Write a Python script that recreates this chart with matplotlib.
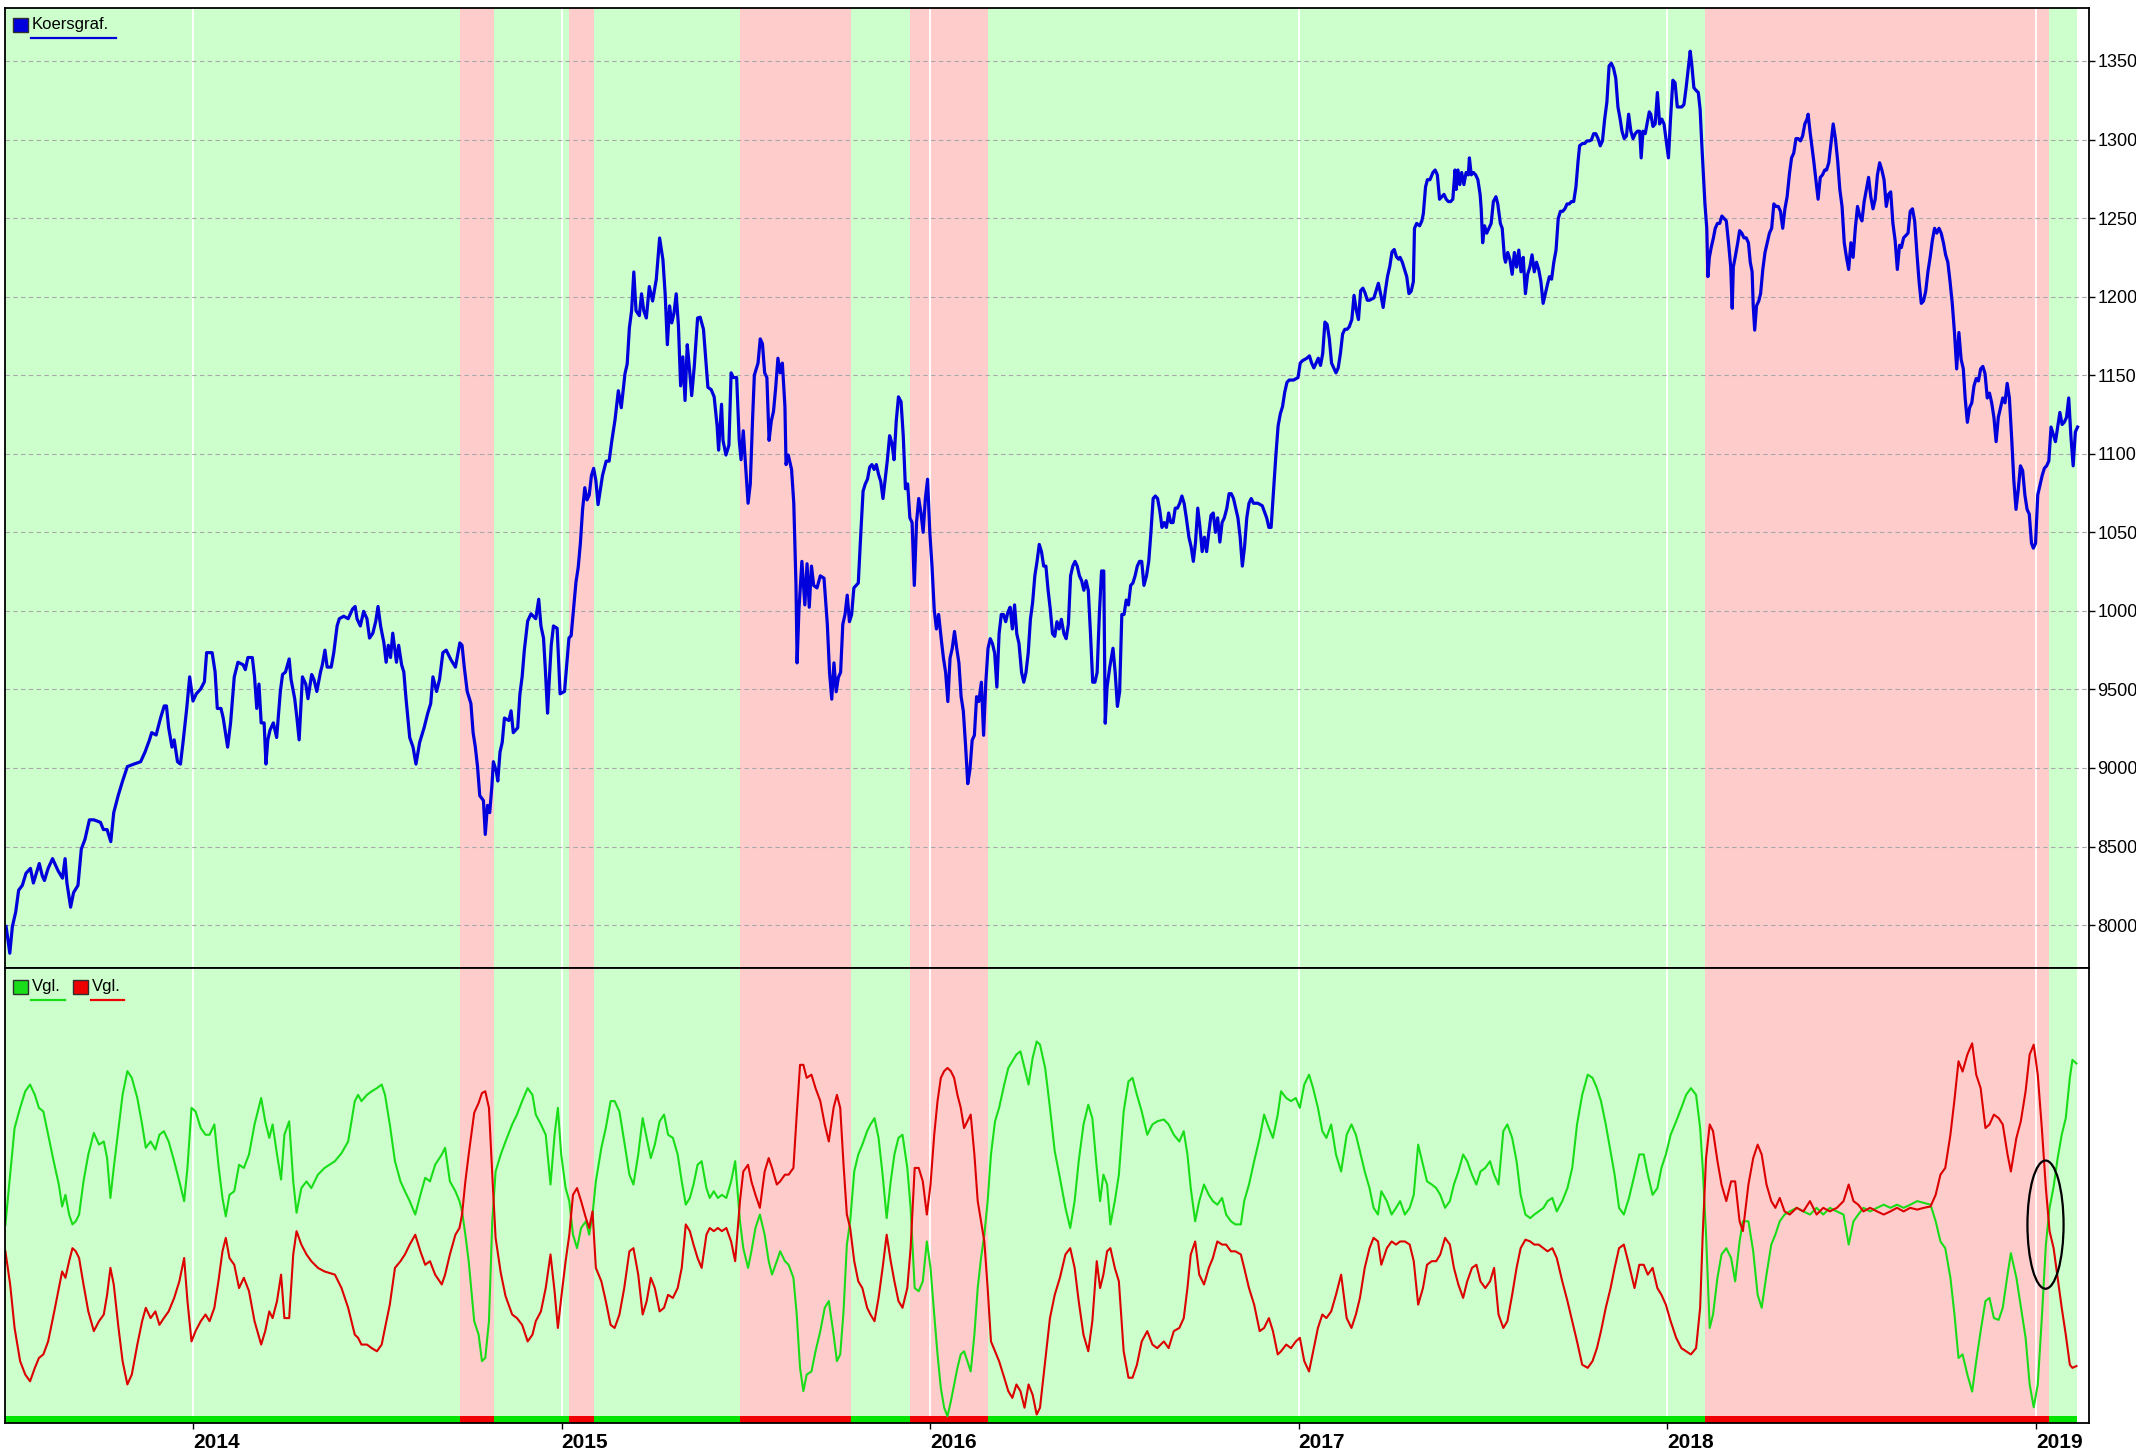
import matplotlib
matplotlib.use("Agg")
import matplotlib.pyplot as plt
from matplotlib.patches import Ellipse, Rectangle
from matplotlib.lines import Line2D

plt.rcParams["font.family"] = ["Liberation Sans", "DejaVu Sans"]

# ---------------- data (x = decimal year) ----------------
price_t = [
    2013.493, 2013.503, 2013.510, 2013.519, 2013.527, 2013.537, 2013.547, 2013.559, 2013.567, 2013.583,
    2013.591, 2013.597, 2013.607, 2013.619, 2013.634, 2013.646, 2013.653, 2013.658, 2013.668, 2013.676,
    2013.688, 2013.697, 2013.707, 2013.719, 2013.731, 2013.749, 2013.757, 2013.767, 2013.777, 2013.785,
    2013.797, 2013.809, 2013.822, 2013.840, 2013.858, 2013.870, 2013.882, 2013.888, 2013.900, 2013.912,
    2013.922, 2013.928, 2013.934, 2013.943, 2013.949, 2013.958, 2013.966, 2013.973, 2013.983, 2013.991,
    2014.000, 2014.009, 2014.021, 2014.031, 2014.037, 2014.052, 2014.060, 2014.066, 2014.076, 2014.082,
    2014.094, 2014.102, 2014.112, 2014.122, 2014.136, 2014.142, 2014.149, 2014.161, 2014.167, 2014.173,
    2014.179, 2014.185, 2014.193, 2014.198, 2014.203, 2014.209, 2014.218, 2014.227, 2014.237, 2014.243,
    2014.251, 2014.261, 2014.266, 2014.276, 2014.282, 2014.288, 2014.297, 2014.306, 2014.312, 2014.322,
    2014.328, 2014.336, 2014.346, 2014.351, 2014.358, 2014.364, 2014.375, 2014.382, 2014.391, 2014.397,
    2014.409, 2014.421, 2014.433, 2014.440, 2014.445, 2014.454, 2014.463, 2014.472, 2014.479, 2014.488,
    2014.496, 2014.502, 2014.509, 2014.518, 2014.524, 2014.530, 2014.536, 2014.542, 2014.552, 2014.558,
    2014.566, 2014.572, 2014.578, 2014.588, 2014.597, 2014.605, 2014.615, 2014.627, 2014.637, 2014.645,
    2014.651, 2014.661, 2014.669, 2014.678, 2014.687, 2014.700, 2014.712, 2014.724, 2014.730, 2014.736,
    2014.744, 2014.754, 2014.760, 2014.766, 2014.772, 2014.778, 2014.788, 2014.793, 2014.799, 2014.805,
    2014.811, 2014.815, 2014.823, 2014.827, 2014.833, 2014.839, 2014.845, 2014.857, 2014.863, 2014.869,
    2014.881, 2014.887, 2014.893, 2014.899, 2014.908, 2014.917, 2014.930, 2014.938, 2014.944, 2014.951,
    2014.956, 2014.962, 2014.966, 2014.972, 2014.978, 2014.988, 2014.996, 2015.008, 2015.014, 2015.020,
    2015.026, 2015.033, 2015.039, 2015.045, 2015.051, 2015.057, 2015.063, 2015.069, 2015.075, 2015.081,
    2015.087, 2015.093, 2015.099, 2015.105, 2015.111, 2015.121, 2015.129, 2015.136, 2015.145, 2015.154,
    2015.162, 2015.172, 2015.178, 2015.184, 2015.190, 2015.196, 2015.202, 2015.211, 2015.217, 2015.223,
    2015.230, 2015.238, 2015.247, 2015.257, 2015.266, 2015.275, 2015.281, 2015.287, 2015.293, 2015.299,
    2015.305, 2015.311, 2015.317, 2015.323, 2015.329, 2015.335, 2015.341, 2015.347, 2015.353, 2015.360,
    2015.369,
    2015.376, 2015.385, 2015.390, 2015.397, 2015.406, 2015.414, 2015.422, 2015.426, 2015.434, 2015.438,
    2015.446, 2015.454, 2015.460, 2015.466, 2015.475, 2015.482, 2015.487, 2015.493, 2015.499, 2015.506,
    2015.512, 2015.518, 2015.523, 2015.533, 2015.539, 2015.545, 2015.551, 2015.557, 2015.563, 2015.569,
    2015.575, 2015.581, 2015.587, 2015.593, 2015.599, 2015.606, 2015.609, 2015.615, 2015.624, 2015.630,
    2015.636, 2015.639, 2015.644, 2015.652, 2015.660, 2015.666, 2015.672, 2015.678, 2015.684, 2015.693,
    2015.702, 2015.712, 2015.721, 2015.727, 2015.733, 2015.739, 2015.745, 2015.751, 2015.757, 2015.763,
    2015.769, 2015.775, 2015.781, 2015.787, 2015.793, 2015.805,
    2015.812, 2015.818, 2015.824, 2015.830, 2015.836, 2015.842, 2015.848, 2015.854, 2015.860, 2015.866,
    2015.872, 2015.878, 2015.884, 2015.890, 2015.896, 2015.902, 2015.908, 2015.914, 2015.921, 2015.927,
    2015.933, 2015.939, 2015.945, 2015.951, 2015.957, 2015.963, 2015.969, 2015.975, 2015.981, 2015.987,
    2015.993, 2015.999, 2016.005, 2016.011, 2016.017, 2016.023, 2016.030, 2016.036, 2016.042, 2016.048,
    2016.054, 2016.060, 2016.066, 2016.072, 2016.078, 2016.084, 2016.090, 2016.096, 2016.102, 2016.108,
    2016.114, 2016.120, 2016.126, 2016.132, 2016.139, 2016.145, 2016.151, 2016.157, 2016.163, 2016.169,
    2016.175, 2016.181, 2016.187, 2016.193, 2016.199, 2016.205, 2016.211, 2016.217, 2016.223, 2016.229,
    2016.235, 2016.241, 2016.248, 2016.254, 2016.260, 2016.266, 2016.272, 2016.278, 2016.284, 2016.290,
    2016.296, 2016.302, 2016.308, 2016.314, 2016.320, 2016.326, 2016.332, 2016.338, 2016.344, 2016.350,
    2016.356, 2016.363, 2016.369, 2016.375, 2016.381, 2016.387, 2016.393, 2016.399, 2016.405, 2016.411,
    2016.417, 2016.423, 2016.429, 2016.435, 2016.441, 2016.447, 2016.453, 2016.459, 2016.465,
    2016.471, 2016.475, 2016.480, 2016.487, 2016.496, 2016.502,
    2016.508, 2016.514, 2016.520, 2016.526, 2016.532, 2016.538, 2016.544, 2016.550, 2016.556, 2016.562,
    2016.568, 2016.574, 2016.580, 2016.587, 2016.593, 2016.599, 2016.605, 2016.611, 2016.617, 2016.623,
    2016.629, 2016.635, 2016.641, 2016.647, 2016.653, 2016.659, 2016.665, 2016.671, 2016.677, 2016.683,
    2016.689, 2016.695, 2016.702, 2016.708, 2016.714, 2016.720, 2016.726, 2016.732, 2016.738, 2016.744,
    2016.750, 2016.756, 2016.762, 2016.768, 2016.774, 2016.780, 2016.786, 2016.792, 2016.798, 2016.805,
    2016.811, 2016.817, 2016.823, 2016.829, 2016.835, 2016.841, 2016.847, 2016.853, 2016.859, 2016.865,
    2016.871, 2016.877, 2016.889, 2016.901, 2016.913, 2016.919, 2016.925, 2016.932, 2016.938, 2016.944,
    2016.950, 2016.956, 2016.962, 2016.968, 2016.974, 2016.986, 2016.998, 2017.004, 2017.010, 2017.022,
    2017.029, 2017.035, 2017.041, 2017.047, 2017.053, 2017.059, 2017.065, 2017.071, 2017.077, 2017.083,
    2017.089, 2017.095, 2017.101, 2017.107, 2017.113, 2017.119, 2017.125, 2017.131, 2017.137, 2017.144,
    2017.150, 2017.156, 2017.162, 2017.168, 2017.174, 2017.180, 2017.186, 2017.192, 2017.204, 2017.210,
    2017.216, 2017.223, 2017.229, 2017.235, 2017.241, 2017.247, 2017.253, 2017.259, 2017.265, 2017.271,
    2017.275, 2017.281, 2017.287, 2017.293, 2017.299, 2017.305, 2017.311, 2017.314, 2017.320, 2017.328,
    2017.334, 2017.338, 2017.344, 2017.349, 2017.356, 2017.364, 2017.370, 2017.376, 2017.382, 2017.388,
    2017.394, 2017.400, 2017.406, 2017.412, 2017.418, 2017.424, 2017.427, 2017.432, 2017.437, 2017.442,
    2017.448, 2017.454, 2017.460, 2017.463, 2017.468, 2017.474, 2017.480, 2017.486, 2017.492, 2017.495,
    2017.499, 2017.504, 2017.510, 2017.516, 2017.522, 2017.528, 2017.535, 2017.540, 2017.547, 2017.552,
    2017.558, 2017.561, 2017.567, 2017.573, 2017.579, 2017.585, 2017.591, 2017.597, 2017.603, 2017.609,
    2017.615, 2017.621, 2017.627, 2017.633, 2017.639, 2017.645, 2017.651, 2017.657, 2017.663, 2017.669,
    2017.675, 2017.680, 2017.686, 2017.692, 2017.698, 2017.704, 2017.710, 2017.716, 2017.722, 2017.728,
    2017.734, 2017.740, 2017.746, 2017.752, 2017.758, 2017.762, 2017.770, 2017.776, 2017.782, 2017.788,
    2017.794, 2017.800, 2017.806, 2017.812, 2017.818, 2017.824, 2017.830, 2017.836, 2017.842, 2017.848,
    2017.854, 2017.860, 2017.866, 2017.872, 2017.877, 2017.883, 2017.889, 2017.895, 2017.901, 2017.907,
    2017.913, 2017.919, 2017.925, 2017.929, 2017.934, 2017.940, 2017.946, 2017.951, 2017.955, 2017.961,
    2017.967, 2017.973, 2017.979, 2017.985, 2017.991, 2017.997, 2018.003, 2018.009, 2018.015, 2018.021,
    2018.027, 2018.033, 2018.039, 2018.045, 2018.051, 2018.057, 2018.062, 2018.066, 2018.072, 2018.077,
    2018.084, 2018.089, 2018.093, 2018.098, 2018.102, 2018.107, 2018.110, 2018.114, 2018.119, 2018.125,
    2018.130, 2018.136, 2018.142, 2018.148, 2018.154, 2018.160, 2018.166, 2018.172, 2018.176, 2018.179,
    2018.184, 2018.191, 2018.196, 2018.202, 2018.208, 2018.214, 2018.220, 2018.225, 2018.230, 2018.233,
    2018.237, 2018.242, 2018.248, 2018.253, 2018.259, 2018.265, 2018.271, 2018.277, 2018.283, 2018.289,
    2018.295, 2018.301, 2018.307, 2018.313, 2018.319, 2018.325, 2018.331, 2018.337, 2018.343, 2018.349,
    2018.355, 2018.361, 2018.367, 2018.373, 2018.379, 2018.382, 2018.387, 2018.392, 2018.397, 2018.403,
    2018.409, 2018.415, 2018.421, 2018.427, 2018.432, 2018.438, 2018.444, 2018.450, 2018.456, 2018.462,
    2018.468, 2018.474, 2018.480, 2018.486, 2018.492, 2018.498, 2018.504, 2018.510, 2018.516, 2018.522,
    2018.528, 2018.534, 2018.540, 2018.546, 2018.552, 2018.558, 2018.564, 2018.570, 2018.576, 2018.582,
    2018.588, 2018.594, 2018.600, 2018.606, 2018.612, 2018.618, 2018.624, 2018.630, 2018.635, 2018.641,
    2018.647, 2018.653, 2018.659, 2018.665, 2018.671, 2018.677, 2018.683, 2018.689, 2018.695, 2018.701,
    2018.707, 2018.713, 2018.719, 2018.725, 2018.731, 2018.737, 2018.743, 2018.749, 2018.755, 2018.761,
    2018.767, 2018.773, 2018.779, 2018.785, 2018.791, 2018.797, 2018.803, 2018.808, 2018.814, 2018.820,
    2018.826, 2018.832, 2018.838, 2018.844, 2018.850, 2018.856, 2018.862, 2018.868, 2018.874, 2018.880,
    2018.886, 2018.892, 2018.898, 2018.904, 2018.910, 2018.916, 2018.922, 2018.928, 2018.934, 2018.940,
    2018.946, 2018.952, 2018.958, 2018.964, 2018.970, 2018.976, 2018.982, 2018.988, 2018.993, 2018.999,
    2019.005, 2019.011, 2019.017, 2019.023, 2019.029, 2019.035, 2019.041, 2019.047, 2019.053, 2019.059,
    2019.065, 2019.071, 2019.077, 2019.083, 2019.089, 2019.095, 2019.101, 2019.107, 2019.113,
]
price_v = [
    7991, 7821, 7991, 8083, 8222, 8253, 8330, 8361, 8268, 8392,
    8315, 8284, 8361, 8423, 8346, 8299, 8423, 8268, 8114, 8207,
    8253, 8484, 8546, 8670, 8670, 8654, 8608, 8608, 8531, 8716,
    8824, 8917, 9009, 9025, 9040, 9102, 9179, 9225, 9210, 9318,
    9395, 9395, 9256, 9133, 9179, 9040, 9025, 9163, 9379, 9580,
    9426, 9472, 9503, 9549, 9734, 9734, 9611, 9379, 9379, 9318,
    9133, 9287, 9580, 9673, 9657, 9626, 9703, 9703, 9580, 9379,
    9534, 9287, 9287, 9025, 9179, 9241, 9287, 9194, 9487, 9595,
    9611, 9694, 9565, 9441, 9318, 9179, 9580, 9534, 9441, 9595,
    9565, 9487, 9611, 9657, 9750, 9642, 9642, 9734, 9904, 9950,
    9966, 9950, 10012, 10028, 9950, 9904, 9997, 9950, 9827, 9858,
    9935, 10028, 9904, 9796, 9673, 9781, 9703, 9858, 9673, 9781,
    9657, 9611, 9441, 9194, 9133, 9025, 9163, 9256, 9349, 9410,
    9580, 9487, 9565, 9734, 9750, 9688, 9642, 9796, 9781, 9642,
    9487, 9410, 9225, 9133, 9009, 8824, 8793, 8577, 8762, 8716,
    8886, 9040, 8978, 8917, 9102, 9163, 9318, 9302, 9364, 9225,
    9256, 9472, 9580, 9750, 9935, 9981, 9950, 10074, 9904, 9827,
    9626, 9349, 9534, 9781, 9904, 9889, 9472, 9487, 9657, 9827,
    9842, 10028, 10182, 10274, 10429, 10645, 10784, 10706, 10737, 10861,
    10907, 10830, 10676, 10768, 10861, 10953, 10953, 11077, 11216, 11401,
    11293, 11509, 11571, 11802, 11910, 12157, 11910, 11879, 12018, 11910,
    11864, 12064, 11972, 12111, 12373, 12234, 12018, 11694, 11941, 11833,
    11895, 12018, 11817, 11432, 11617, 11339, 11694, 11540, 11370, 11555,
    11864,
    11869, 11792, 11638, 11423, 11408, 11362, 11177, 11023, 11315, 11085,
    10992, 11054, 11515, 11485, 11485, 11085, 10962, 11146, 10931, 10685,
    10808, 11208, 11500, 11577, 11731, 11700, 11515, 11485, 11085, 11208,
    11269, 11423, 11608, 11515, 11577, 11300, 10931, 10992, 10900, 10685,
    10162, 9669, 10008, 10315, 10038, 10300, 10023, 10285, 10162, 10146,
    10223, 10208, 9915, 9608, 9438, 9669, 9485, 9577, 9608, 9915,
    9977, 10100, 9931, 9977, 10146, 10177,
    10500, 10762, 10808, 10838, 10915, 10931, 10900, 10931, 10869, 10823,
    10715, 10838, 10962, 11115, 11069, 10962, 11208, 11362, 11331, 11115,
    10777, 10808, 10592, 10562, 10162, 10562, 10715, 10623, 10500, 10715,
    10838, 10500, 10285, 10008, 9885, 9977, 9823, 9700, 9608, 9423,
    9700, 9762, 9869, 9762, 9669, 9454, 9362, 9146, 8900, 8992,
    9177, 9208, 9454, 9423, 9546, 9208, 9546, 9762, 9823, 9792,
    9731, 9515, 9854, 9977, 9977, 9931, 9992, 10023, 9885, 10038,
    9854, 9792, 9608, 9546, 9608, 9731, 9946, 10054, 10223, 10315,
    10423, 10377, 10285, 10285, 10131, 10008, 9854, 9838, 9931, 9885,
    9946, 9854, 9823, 9915, 10223, 10285, 10315, 10285, 10223, 10192,
    10131, 10192, 10131, 9854, 9546, 9546, 9608, 9977, 10254,
    10254, 9285, 9515, 9638, 9762, 9608,
    9392, 9485, 9977, 9977, 10069, 10038, 10162, 10177, 10223, 10285,
    10315, 10315, 10162, 10223, 10315, 10500, 10715, 10731, 10715, 10638,
    10531, 10562, 10531, 10623, 10562, 10562, 10654, 10654, 10685, 10731,
    10685, 10592, 10469, 10408, 10315, 10438, 10654, 10531, 10377, 10469,
    10377, 10500, 10608, 10623, 10500, 10592, 10438, 10562, 10592, 10654,
    10746, 10746, 10715, 10654, 10592, 10469, 10285, 10408, 10592, 10685,
    10715, 10685, 10685, 10669, 10592, 10531, 10531, 10777, 10992, 11177,
    11254, 11300, 11392, 11454, 11469, 11469, 11485, 11577, 11592, 11608,
    11623, 11577, 11546, 11577, 11608, 11562, 11638, 11838, 11823, 11731,
    11577, 11546, 11515, 11546, 11638, 11762, 11792, 11792, 11808, 11854,
    12008, 11915, 11854, 12038, 12054, 12023, 11977, 11977, 11992, 12038,
    12085, 12008, 11931, 12038, 12131, 12192, 12285, 12300, 12254, 12238,
    12250, 12219, 12173, 12127, 12019, 12034, 12096, 12435, 12466, 12451,
    12482, 12528, 12698, 12744, 12744, 12790, 12806, 12775, 12620, 12636,
    12651, 12620, 12605, 12605, 12620, 12806, 12682, 12806, 12713, 12790,
    12713, 12790, 12775, 12883, 12775, 12790, 12775, 12744, 12651, 12559,
    12343, 12451, 12404, 12435, 12466, 12605, 12636, 12590, 12466, 12435,
    12250, 12219, 12281, 12235, 12142, 12281, 12188, 12296, 12158, 12250,
    12019, 12142, 12188, 12266, 12158, 12219, 12173, 12096, 11957, 12019,
    12080, 12127, 12111, 12219, 12296, 12497, 12543, 12543, 12559, 12590,
    12590, 12605, 12605, 12698, 12867, 12960, 12975, 12975, 12991, 12991,
    12997, 13037, 13037, 13006, 12960, 12991, 13130, 13238, 13469, 13485,
    13454, 13392, 13207, 13130, 13053, 13006, 13022, 13161, 13053, 13006,
    13037, 13053, 13053, 12883, 13053, 13037, 13114, 13176, 13161, 13083,
    13099, 13299, 13099, 13130, 13099, 12991, 12883, 13145, 13377, 13361,
    13207, 13207, 13207, 13222, 13330, 13454, 13562, 13485, 13330, 13315,
    13299, 13191, 12991, 12775, 12590, 12435, 12127, 12250, 12312, 12374,
    12435, 12466, 12466, 12513, 12497, 12482, 12343, 12188, 11926, 12188,
    12250, 12343, 12420, 12404, 12374, 12374, 12343, 12219, 12158, 11942,
    11787, 11942, 11972, 12019, 12173, 12281, 12343, 12404, 12435, 12590,
    12574, 12574, 12543, 12435, 12559, 12636, 12775, 12883, 12914, 13006,
    13006, 12991, 13022, 13099, 13130, 13161, 13053, 12960, 12867, 12744,
    12620, 12759, 12775, 12806, 12806, 12852, 12975, 13099, 13006, 12867,
    12682, 12574, 12343, 12250, 12173, 12343, 12250, 12435, 12574, 12513,
    12482, 12605, 12682, 12759, 12636, 12559, 12620, 12775, 12852, 12806,
    12744, 12574, 12651, 12667, 12466, 12358, 12173, 12327, 12312, 12374,
    12389, 12404, 12543, 12559, 12482, 12281, 12096, 11957, 11972, 12034,
    12158, 12250, 12358, 12435, 12404, 12435, 12404, 12343, 12266, 12219,
    12096, 11957, 11772, 11540, 11772, 11602, 11540, 11355, 11200, 11293,
    11324, 11432, 11479, 11463, 11540, 11556, 11509, 11355, 11386, 11324,
    11232, 11077, 11232, 11293, 11355, 11324, 11448, 11355, 11108, 10831,
    10646, 10769, 10923, 10892, 10738, 10646, 10615, 10430, 10399, 10430,
    10738, 10800, 10862, 10908, 10923, 10954, 11170, 11124, 11077, 11170,
    11263, 11186, 11201, 11232, 11355, 11108, 10923, 11139, 11170,
]

# oscillator ("Vgl.") readings, 0..100 scale, shared time axis
osc_t = [
    2013.491, 2013.504, 2013.516, 2013.531, 2013.545, 2013.558, 2013.571, 2013.582, 2013.594, 2013.607,
    2013.622, 2013.636, 2013.645, 2013.654, 2013.664, 2013.673, 2013.682, 2013.691, 2013.703, 2013.716,
    2013.731, 2013.745, 2013.758, 2013.767, 2013.776, 2013.785, 2013.798, 2013.809, 2013.822, 2013.834,
    2013.849, 2013.862, 2013.872, 2013.885, 2013.898, 2013.909, 2013.921, 2013.934, 2013.949, 2013.963,
    2013.976, 2013.985, 2013.996, 2014.007, 2014.021, 2014.034, 2014.045, 2014.058, 2014.069, 2014.080,
    2014.089, 2014.099, 2014.112, 2014.125, 2014.138, 2014.152, 2014.167, 2014.185, 2014.196, 2014.207,
    2014.216, 2014.228, 2014.239, 2014.248, 2014.261, 2014.272, 2014.281, 2014.294, 2014.308, 2014.321,
    2014.339, 2014.357, 2014.385, 2014.403, 2014.421, 2014.439, 2014.448, 2014.457, 2014.472, 2014.485,
    2014.499, 2014.512, 2014.521, 2014.534, 2014.548, 2014.563, 2014.575, 2014.588, 2014.603, 2014.617,
    2014.630, 2014.643, 2014.657, 2014.675, 2014.684, 2014.697, 2014.712, 2014.723, 2014.730, 2014.739,
    2014.748, 2014.763, 2014.775, 2014.784, 2014.793, 2014.803, 2014.812, 2014.821, 2014.835, 2014.848,
    2014.866, 2014.879, 2014.893, 2014.908, 2014.921, 2014.930, 2014.944, 2014.957, 2014.970, 2014.981,
    2014.990, 2014.999, 2015.011, 2015.021, 2015.031, 2015.042, 2015.053, 2015.066, 2015.075, 2015.084,
    2015.093, 2015.108, 2015.120, 2015.133, 2015.144, 2015.157, 2015.170, 2015.184, 2015.195, 2015.208,
    2015.220, 2015.231, 2015.242, 2015.253, 2015.266, 2015.278, 2015.289, 2015.302, 2015.315, 2015.326,
    2015.337, 2015.348, 2015.358, 2015.369, 2015.380, 2015.393, 2015.402, 2015.413, 2015.424, 2015.435,
    2015.447, 2015.460, 2015.471, 2015.484, 2015.493, 2015.506, 2015.515, 2015.526, 2015.538, 2015.551,
    2015.562, 2015.571, 2015.584, 2015.593, 2015.606, 2015.616, 2015.629, 2015.638, 2015.647, 2015.656,
    2015.665, 2015.678, 2015.689, 2015.702, 2015.714, 2015.725, 2015.738, 2015.747, 2015.756, 2015.765,
    2015.774, 2015.783, 2015.794, 2015.805, 2015.816, 2015.829, 2015.838, 2015.849, 2015.860, 2015.871,
    2015.882, 2015.893, 2015.903, 2015.914, 2015.925, 2015.938, 2015.947, 2015.958, 2015.969, 2015.980,
    2015.991, 2016.001, 2016.011, 2016.020, 2016.029, 2016.038, 2016.047, 2016.056, 2016.065, 2016.074,
    2016.083, 2016.092, 2016.101, 2016.110, 2016.120, 2016.129, 2016.138, 2016.147, 2016.156, 2016.165,
    2016.176, 2016.187, 2016.201, 2016.212, 2016.223, 2016.234, 2016.245, 2016.256, 2016.267, 2016.278,
    2016.289,
    2016.298, 2016.312, 2016.325, 2016.338, 2016.352, 2016.367, 2016.380, 2016.392, 2016.403, 2016.416,
    2016.429, 2016.440, 2016.452, 2016.461, 2016.470, 2016.480, 2016.489, 2016.501, 2016.512, 2016.525,
    2016.538, 2016.549, 2016.561, 2016.574, 2016.589, 2016.603, 2016.616, 2016.634, 2016.647, 2016.661,
    2016.676, 2016.688, 2016.698, 2016.707, 2016.719, 2016.730, 2016.743, 2016.756, 2016.767, 2016.779,
    2016.792, 2016.803, 2016.816, 2016.828, 2016.843, 2016.852, 2016.865, 2016.879, 2016.894, 2016.906,
    2016.919, 2016.930, 2016.943, 2016.952, 2016.966, 2016.979, 2016.992, 2017.003, 2017.015, 2017.028,
    2017.039, 2017.052, 2017.064, 2017.075, 2017.088, 2017.101, 2017.115, 2017.130, 2017.143, 2017.155,
    2017.166, 2017.179, 2017.192, 2017.203, 2017.215, 2017.224, 2017.239, 2017.252, 2017.264, 2017.275,
    2017.288, 2017.301, 2017.312, 2017.324, 2017.337, 2017.348, 2017.361, 2017.373, 2017.384, 2017.397,
    2017.410, 2017.421, 2017.433, 2017.446, 2017.457, 2017.470, 2017.482, 2017.493, 2017.506, 2017.519,
    2017.530, 2017.542, 2017.555, 2017.566, 2017.579, 2017.591, 2017.602, 2017.615, 2017.628, 2017.639,
    2017.651, 2017.664, 2017.675, 2017.688, 2017.700, 2017.715, 2017.729, 2017.742, 2017.755, 2017.769,
    2017.784, 2017.797, 2017.809, 2017.820, 2017.833, 2017.846, 2017.857, 2017.869, 2017.882, 2017.896,
    2017.911, 2017.924, 2017.936, 2017.947, 2017.960, 2017.973, 2017.984, 2017.996, 2018.009, 2018.024,
    2018.038, 2018.051, 2018.064, 2018.078, 2018.089, 2018.096, 2018.105, 2018.115, 2018.124, 2018.136,
    2018.147, 2018.160, 2018.173, 2018.184, 2018.196, 2018.205, 2018.220, 2018.233, 2018.245, 2018.256,
    2018.269, 2018.282, 2018.293, 2018.305, 2018.318, 2018.332, 2018.351, 2018.369, 2018.387, 2018.405,
    2018.423, 2018.441, 2018.460, 2018.478, 2018.492, 2018.505, 2018.518, 2018.532, 2018.550, 2018.569,
    2018.587, 2018.605, 2018.623, 2018.641, 2018.659, 2018.678, 2018.696, 2018.714, 2018.728, 2018.741,
    2018.754, 2018.768, 2018.779, 2018.790, 2018.801, 2018.814, 2018.827, 2018.838, 2018.850, 2018.863,
    2018.874, 2018.886, 2018.899, 2018.910, 2018.923, 2018.932, 2018.947, 2018.959, 2018.972, 2018.983,
    2018.994, 2019.005, 2019.016, 2019.027, 2019.037, 2019.048, 2019.059, 2019.070, 2019.081, 2019.092,
    2019.099, 2019.110,
]
osc_green = [
    42.7, 53.9, 64.3, 68.8, 72.5, 74.0, 71.7, 68.8, 68.0, 62.8,
    56.9, 51.7, 46.8, 49.4, 45.0, 42.8, 43.5, 45.0, 52.4, 58.4,
    63.2, 60.6, 61.3, 57.6, 48.7, 55.4, 64.3, 71.7, 77.0, 75.5,
    71.0, 65.1, 59.9, 61.3, 59.5, 62.8, 63.6, 61.3, 56.9, 52.4,
    48.0, 55.4, 68.8, 68.0, 64.3, 62.8, 62.8, 65.1, 56.1, 48.7,
    44.6, 49.4, 50.2, 56.1, 55.4, 58.4, 65.1, 71.0, 65.8, 62.1,
    65.1, 58.4, 52.8, 62.8, 65.8, 52.4, 45.4, 50.9, 52.4, 50.9,
    53.9, 55.4, 56.9, 58.7, 61.3, 70.3, 71.7, 70.3, 71.7, 72.5,
    73.2, 74.0, 71.7, 65.1, 56.9, 52.4, 50.2, 48.0, 45.0, 49.4,
    53.2, 52.4, 56.1, 58.4, 59.9, 52.4, 50.2, 48.0, 45.7, 40.5,
    34.6, 21.2, 18.2, 12.3, 13.0, 21.2, 43.5, 54.6, 58.4, 61.3,
    65.1, 67.3, 70.3, 73.2, 71.7, 67.3, 65.1, 62.8, 51.7, 62.8,
    68.8, 58.4, 50.9, 48.0, 40.5, 37.5, 42.0, 43.5, 40.5, 45.0,
    52.4, 59.9, 64.3, 70.3, 70.3, 68.0, 61.3, 53.9, 51.7, 58.4,
    66.5, 62.1, 57.6, 60.6, 65.8, 67.3, 62.8, 62.1, 58.4, 52.4,
    47.2, 48.7, 51.7, 56.1, 56.9, 50.9, 48.7, 50.2, 48.7, 49.4,
    48.7, 52.4, 56.9, 43.5, 37.5, 33.1, 36.8, 42.0, 45.0, 40.5,
    34.6, 31.6, 34.6, 36.8, 34.6, 33.8, 30.9, 22.7, 10.8, 5.6,
    9.3, 10.0, 14.5, 19.0, 24.2, 25.7, 18.2, 12.3, 13.8, 23.4,
    38.3, 43.5, 54.6, 58.4, 60.6, 63.6, 65.1, 66.5, 62.1, 53.9,
    44.2, 52.4, 58.4, 62.1, 62.8, 55.4, 46.5, 28.6, 27.9, 30.1,
    39.0, 33.1, 22.7, 13.8, 6.3, 1.9, 0.0, 3.3, 7.1, 10.8,
    13.8, 14.5, 12.3, 10.0, 18.2, 28.6, 35.3, 40.5, 48.0, 58.4,
    65.8, 68.8, 74.0, 77.7, 79.2, 80.7, 81.4, 77.7, 74.0, 79.9,
    83.6,
    82.9, 77.7, 68.8, 59.1, 53.2, 46.5, 42.0, 48.0, 56.9, 65.1,
    69.5, 66.5, 55.4, 48.0, 53.9, 51.7, 42.8, 48.0, 53.9, 68.0,
    74.7, 75.5, 71.7, 68.0, 62.8, 65.1, 65.8, 66.2, 65.1, 62.8,
    61.3, 63.6, 58.4, 50.9, 43.5, 48.0, 51.7, 49.4, 48.0, 47.2,
    48.7, 45.0, 43.5, 42.8, 42.8, 48.0, 51.7, 56.9, 62.1, 67.3,
    64.3, 62.1, 67.3, 72.5, 71.0, 70.3, 71.0, 68.8, 74.0, 76.2,
    73.2, 68.8, 63.6, 62.1, 65.1, 58.4, 54.6, 62.8, 65.1, 62.8,
    59.1, 54.6, 50.9, 46.5, 45.0, 50.2, 48.0, 45.0, 46.5, 48.0,
    45.0, 46.5, 49.4, 60.6, 56.1, 52.4, 51.7, 50.9, 49.4, 46.5,
    48.0, 51.7, 54.6, 58.4, 56.9, 53.9, 51.7, 54.6, 55.4, 56.9,
    53.9, 51.7, 63.6, 65.1, 62.1, 56.9, 49.4, 45.0, 44.2, 45.0,
    45.7, 46.5, 48.0, 48.7, 45.7, 48.0, 50.9, 55.4, 65.1, 71.7,
    76.2, 75.5, 73.2, 70.3, 65.1, 59.1, 53.9, 46.5, 45.0, 48.7,
    53.9, 58.4, 58.4, 53.9, 49.4, 50.9, 55.4, 58.4, 62.8, 65.8,
    68.8, 71.7, 73.2, 71.7, 64.3, 55.4, 40.5, 19.7, 22.7, 30.9,
    36.1, 37.5, 35.3, 30.1, 39.0, 43.5, 43.5, 36.8, 27.1, 24.2,
    31.6, 38.3, 40.5, 43.5, 45.0, 45.7, 46.5, 45.7, 45.0, 46.5,
    45.0, 46.5, 45.7, 45.0, 38.3, 43.5, 45.0, 46.5, 45.7, 46.5,
    47.2, 46.5, 47.2, 46.5, 47.2, 48.0, 47.6, 47.2, 43.5, 39.0,
    37.5, 30.9, 22.7, 13.0, 13.8, 9.3, 5.5, 12.3, 19.0, 25.7,
    26.4, 21.9, 21.5, 24.2, 31.6, 36.4, 30.9, 24.5, 17.5, 7.1,
    2.0, 7.1, 21.9, 38.3, 46.5, 51.2, 57.6, 62.8, 66.5, 75.5,
    79.5, 78.7,
]
osc_red = [
    36.8, 29.4, 19.7, 12.3, 9.3, 7.8, 10.8, 13.0, 13.8, 16.7,
    22.7, 28.6, 32.3, 30.9, 34.6, 37.5, 36.8, 35.3, 29.4, 23.4,
    19.0, 21.2, 22.7, 27.1, 33.1, 29.4, 19.7, 12.3, 7.1, 9.3,
    16.0, 21.2, 24.2, 21.9, 23.4, 20.4, 21.9, 23.4, 26.4, 30.1,
    35.3, 25.7, 16.7, 19.0, 21.2, 22.7, 21.2, 24.2, 30.1, 36.8,
    39.8, 35.3, 33.8, 28.6, 30.9, 27.9, 21.2, 16.0, 19.0, 23.4,
    21.9, 25.7, 31.6, 21.9, 21.9, 36.1, 41.3, 38.3, 36.1, 34.6,
    33.1, 32.3, 31.6, 28.6, 24.2, 18.2, 17.5, 16.0, 16.0, 15.2,
    14.5, 16.0, 19.7, 24.9, 33.1, 34.6, 36.1, 38.3, 40.5, 36.8,
    33.8, 34.6, 31.6, 29.4, 31.6, 36.1, 40.5, 42.0, 45.0, 52.4,
    58.4, 67.7, 69.9, 72.1, 72.5, 68.8, 53.9, 39.8, 32.0, 26.8,
    22.7, 21.9, 20.4, 16.7, 18.2, 21.2, 23.4, 28.6, 36.1, 27.9,
    19.7, 26.4, 34.6, 40.5, 49.4, 50.9, 48.0, 44.2, 42.0, 45.7,
    33.1, 30.1, 25.7, 20.4, 19.7, 22.7, 28.6, 36.8, 37.5, 31.6,
    22.7, 25.7, 30.9, 28.6, 23.4, 24.2, 27.1, 26.4, 28.6, 33.1,
    42.8, 41.3, 38.3, 35.3, 33.1, 40.5, 42.0, 41.3, 42.0, 41.3,
    42.0, 39.0, 34.6, 48.0, 54.6, 56.1, 52.4, 49.4, 46.5, 54.6,
    57.6, 55.4, 51.7, 52.4, 53.9, 53.9, 55.4, 67.3, 78.4, 78.4,
    75.5, 76.2, 73.2, 70.3, 65.1, 61.3, 68.8, 71.7, 68.8, 56.1,
    45.0, 42.0, 34.6, 30.1, 28.6, 24.2, 22.7, 21.2, 26.4, 33.1,
    40.5, 34.6, 30.1, 25.7, 24.2, 28.6, 37.5, 55.4, 55.4, 52.4,
    45.0, 51.7, 62.8, 70.3, 75.5, 77.0, 77.7, 77.0, 75.5, 71.7,
    68.8, 64.3, 65.8, 67.3, 58.4, 48.0, 43.5, 39.0, 28.6, 16.7,
    14.5, 12.3, 8.6, 5.6, 4.1, 7.1, 5.6, 1.9, 7.1, 4.8,
    0.4,
    1.9, 12.3, 21.9, 27.1, 30.9, 36.1, 37.5, 33.1, 25.7, 18.2,
    14.5, 21.2, 34.6, 28.6, 31.6, 36.8, 37.5, 33.1, 30.1, 14.5,
    8.6, 8.6, 11.5, 16.7, 19.0, 16.0, 15.2, 16.7, 15.2, 19.0,
    19.7, 21.9, 28.6, 36.1, 39.0, 31.6, 29.4, 33.1, 35.3, 39.0,
    38.3, 38.3, 36.8, 36.8, 36.1, 33.1, 28.6, 24.9, 19.0, 19.7,
    21.9, 19.0, 13.8, 14.5, 16.0, 15.2, 16.7, 17.5, 12.3, 10.0,
    14.5, 19.7, 22.7, 21.9, 23.4, 27.1, 31.6, 21.9, 19.7, 22.7,
    26.4, 33.1, 37.5, 39.8, 39.0, 33.8, 37.5, 39.0, 38.3, 39.0,
    39.0, 38.3, 34.6, 24.9, 28.6, 33.8, 34.6, 34.6, 36.1, 39.8,
    38.3, 33.1, 29.4, 26.4, 30.1, 33.1, 33.8, 30.1, 28.6, 30.1,
    33.1, 22.7, 19.7, 21.2, 27.1, 33.1, 37.5, 39.4, 39.0, 38.3,
    38.3, 37.5, 36.8, 37.5, 35.3, 30.1, 25.7, 21.2, 16.7, 11.5,
    10.8, 12.3, 15.2, 19.0, 24.2, 28.6, 33.1, 37.5, 38.3, 33.8,
    28.6, 33.8, 33.8, 31.6, 33.1, 28.6, 27.1, 24.9, 21.2, 17.5,
    15.2, 14.5, 13.8, 15.2, 24.2, 40.5, 57.6, 65.1, 63.6, 56.9,
    51.7, 48.0, 52.4, 52.4, 43.5, 41.3, 51.7, 57.6, 60.6, 58.4,
    51.7, 48.0, 46.5, 48.7, 45.7, 45.0, 46.5, 45.7, 48.0, 45.0,
    46.5, 45.7, 46.5, 48.0, 51.7, 48.0, 47.2, 45.7, 46.5, 45.7,
    45.0, 45.7, 46.5, 45.7, 46.5, 46.1, 46.5, 46.8, 49.4, 53.9,
    55.4, 62.8, 70.6, 79.2, 76.9, 80.7, 83.2, 76.2, 73.2, 64.3,
    65.1, 67.3, 66.5, 65.1, 58.4, 54.6, 62.1, 65.8, 72.5, 80.7,
    82.9, 76.2, 64.3, 50.9, 41.3, 37.5, 30.9, 24.2, 18.2, 11.5,
    10.8, 11.2,
]

# buy (green) / sell (red) signal periods
signal_edges = [2013.490, 2014.724, 2014.817, 2015.020, 2015.088, 2015.484,
                2015.785, 2015.945, 2016.157, 2018.102, 2019.035, 2019.111]
signal_state = ["buy", "sell", "buy", "sell", "buy", "sell",
                "buy", "sell", "buy", "sell", "buy"]

year_ticks = [2014, 2015, 2016, 2017, 2018, 2019]
price_ticks = [8000, 8500, 9000, 9500, 10000, 10500, 11000, 11500,
               12000, 12500, 13000, 13500]

# circled crossing in the oscillator panel
mark_center = (2019.026, 42.75)
mark_size = (0.098, 28.6)

# ---------------- figure ----------------
W, H = 2136, 1451
fig = plt.figure(figsize=(W / 100, H / 100), dpi=100)
fig.patch.set_facecolor("white")

def fx(px):
    return px / W

def fy(py):
    return 1 - py / H

ax_p = fig.add_axes([fx(5), fy(968), fx(2089) - fx(5), fy(8) - fy(968)])
ax_o = fig.add_axes([fx(5), fy(1423), fx(2089) - fx(5), fy(968) - fy(1423)], sharex=ax_p)

GREEN_BG, RED_BG = "#ccffcc", "#ffcccc"
GREEN_BAR, RED_BAR = "#00e400", "#f00000"

for a in (ax_p, ax_o):
    a.set_facecolor("white")
    for s, e, st in zip(signal_edges[:-1], signal_edges[1:], signal_state):
        a.axvspan(s, e, color=GREEN_BG if st == "buy" else RED_BG, lw=0, zorder=0)
    for yr in year_ticks:
        a.axvline(yr, color="white", lw=1.3, zorder=0.5)
    for sp in a.spines.values():
        sp.set_color("black")
        sp.set_linewidth(1.3)
        sp.set_zorder(5)

# price panel
for v in price_ticks:
    ax_p.axhline(v, color="#a8a8a8", lw=0.8, ls=(0, (4, 3)), zorder=0.6)
ax_p.plot(price_t, price_v, color="#0000dd", lw=2.3, zorder=3)
ax_p.set_xlim(2013.490, 2019.144)
ax_p.set_ylim(7727, 13837)
ax_p.yaxis.tick_right()
ax_p.set_yticks(price_ticks)
ax_p.set_yticklabels([str(v) for v in price_ticks])
ax_p.tick_params(axis="y", length=4, width=1, pad=2, labelsize=13, colors="black")
ax_p.tick_params(axis="x", length=0, labelbottom=False)

# oscillator panel
ax_o.plot(osc_t, osc_green, color="#18dd18", lw=1.5, zorder=3)
ax_o.plot(osc_t, osc_red, color="#dd0000", lw=1.5, zorder=3)
for s, e, st in zip(signal_edges[:-1], signal_edges[1:], signal_state):
    ax_o.fill_between([s, e], -1.6, 0, color=GREEN_BAR if st == "buy" else RED_BAR,
                      lw=0, zorder=2)
ax_o.add_patch(Ellipse(mark_center, mark_size[0], mark_size[1], fill=False,
                       ec="black", lw=1.6, zorder=4))
ax_o.set_ylim(-1.5, 100)
ax_o.set_yticks([])
ax_o.set_xticks(year_ticks)
ax_o.set_xticklabels([str(y) for y in year_ticks])
ax_o.tick_params(axis="x", length=4, width=1, pad=3, labelsize=15)
for lab in ax_o.get_xticklabels():
    lab.set_fontweight("bold")
    lab.set_horizontalalignment("left")

# legends (square + underlined label, like the original)
def legend_item(x, y, label, color, text_w):
    fig.add_artist(Rectangle((fx(x), fy(y + 14)), 15 / W, 14 / H, transform=fig.transFigure,
                             facecolor=color, edgecolor="#303030", lw=1.0))
    fig.text(fx(x + 19), fy(y + 7), label, fontsize=12, va="center", ha="left")
    fig.add_artist(Line2D([fx(x + 18), fx(x + 18 + text_w)], [fy(y + 20), fy(y + 20)],
                          transform=fig.transFigure, color=color, lw=1.6))

legend_item(13, 18, "Koersgraf.", "#0000dd", 85)
legend_item(13, 980, "Vgl.", "#18dd18", 34)
legend_item(73, 980, "Vgl.", "#ee0000", 33)

fig.savefig("out.png", dpi=100)
